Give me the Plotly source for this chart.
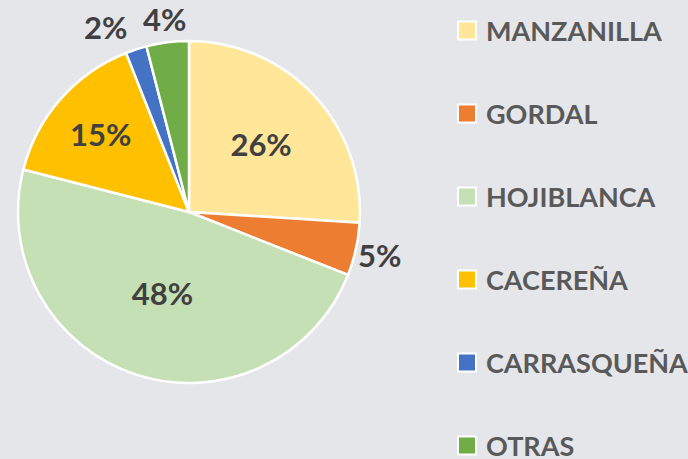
import math
import plotly.graph_objects as go

categories = ["MANZANILLA", "GORDAL", "HOJIBLANCA", "CACEREÑA", "CARRASQUEÑA", "OTRAS"]
values = [26, 5, 48, 15, 2, 4]
colors = ["#FFE699", "#ED7D31", "#C5E0B4", "#FFC000", "#4472C4", "#70AD47"]
# label placement per slice: inside (drawn by the pie) or outside (annotation)
label_mode = ["inside", "outside", "inside", "inside", "outside", "outside"]
outside_anchor = ["center", "center", "center", "center", "right", "center"]

W, H = 688, 459
FONT = "Lato"
CX, CY, R = 189, 212, 171          # pie centre / radius in pixels
LABEL_R = 195                      # radius for outside labels (pixels)

fig = go.Figure()
fig.add_trace(go.Pie(
    labels=categories,
    values=values,
    sort=False,
    direction="clockwise",
    rotation=0,
    marker=dict(colors=colors, line=dict(color="white", width=2.5)),
    texttemplate="%{percent:.0%}",
    textposition=["inside" if m == "inside" else "none" for m in label_mode],
    insidetextorientation="horizontal",
    textfont=dict(family=FONT, size=31, color="#404040", weight="bold"),
    insidetextfont=dict(family=FONT, size=31, color="#404040", weight="bold"),
    domain=dict(x=[(CX - R) / W, (CX + R) / W], y=[(H - CY - R) / H, (H - CY + R) / H]),
    showlegend=False,
    hoverinfo="label+percent",
))

annotations = []
shapes = []

# outside percentage labels, positioned from the slice mid-angles
total = sum(values)
cum = 0
for v, mode, anc in zip(values, label_mode, outside_anchor):
    mid = (cum + v / 2) / total * 2 * math.pi
    cum += v
    if mode != "outside":
        continue
    px = CX + LABEL_R * math.sin(mid)
    py = CY - LABEL_R * math.cos(mid)
    annotations.append(dict(
        x=px / W, y=(H - py) / H, xref="paper", yref="paper",
        text=f"{round(v / total * 100)}%", showarrow=False,
        xanchor=anc, yanchor="middle",
        font=dict(family=FONT, size=31, color="#404040", weight="bold"),
    ))

# custom legend (large spacing as in reference)
top_c = 30.5
step = 83.0
for i, (cat, col) in enumerate(zip(categories, colors)):
    yc = top_c + i * step
    shapes.append(dict(
        type="rect", xref="paper", yref="paper",
        x0=458 / W, x1=476 / W,
        y0=(H - (yc + 9)) / H, y1=(H - (yc - 9)) / H,
        fillcolor=col, line=dict(color="white", width=2),
    ))
    annotations.append(dict(
        x=484 / W, y=(H - yc) / H, xref="paper", yref="paper",
        text=cat, showarrow=False, xanchor="left", yanchor="middle",
        font=dict(family=FONT, size=27, color="#595959", weight="bold"),
    ))

fig.update_layout(
    width=W, height=H,
    margin=dict(l=0, r=0, t=0, b=0),
    paper_bgcolor="#E5E6EA",
    plot_bgcolor="#E5E6EA",
    shapes=shapes,
    annotations=annotations,
)

fig.write_html(
    "out.html",
    config={"displayModeBar": False},
    post_script="document.body.style.margin='0';document.body.style.overflow='hidden';",
)
